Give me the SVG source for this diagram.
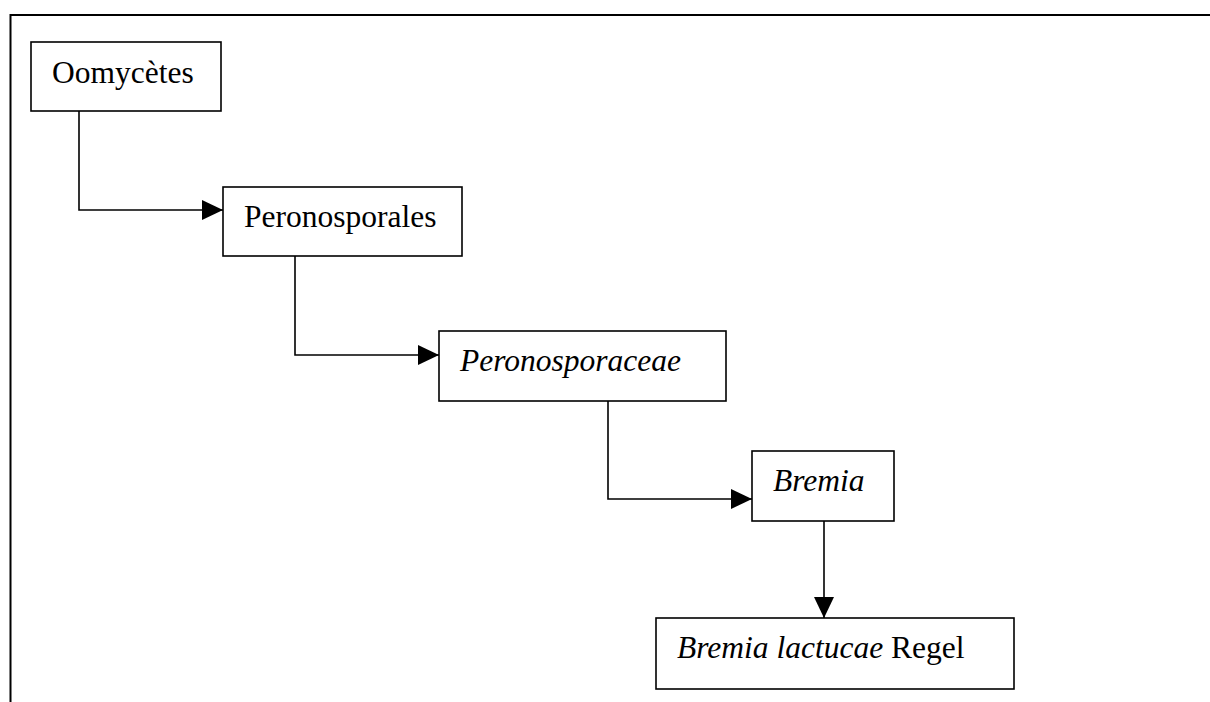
<svg xmlns="http://www.w3.org/2000/svg" width="1210" height="702" viewBox="0 0 1210 702">
<style>
.box{fill:#fff;stroke:#000;stroke-width:1.6}
.t{font-family:"Liberation Serif","Times New Roman",serif;font-size:31.5px;fill:#000}
.i{font-style:italic}
.c{fill:none;stroke:#000;stroke-width:1.6}
</style>
<defs>
<marker id="ah" markerWidth="21" markerHeight="20" refX="21" refY="10" orient="auto" markerUnits="userSpaceOnUse">
<path d="M0,0 L21,10 L0,20 Z" fill="#000"/>
</marker>
</defs>
<rect width="1210" height="702" fill="#fff"/>
<path d="M10.5,702 L10.5,15 L1210,15" fill="none" stroke="#000" stroke-width="2"/>
<g id="connectors">
<path class="c" d="M79,111 L79,210 L223,210" marker-end="url(#ah)"/>
<path class="c" d="M295,256 L295,355 L439,355" marker-end="url(#ah)"/>
<path class="c" d="M608,401 L608,499 L752,499" marker-end="url(#ah)"/>
<path class="c" d="M824,521 L824,618" marker-end="url(#ah)"/>
</g>
<g id="n1"><rect class="box" x="31" y="42" width="190" height="69"/><text class="t" x="52" y="83">Oomycètes</text></g>
<g id="n2"><rect class="box" x="223" y="187" width="239" height="69"/><text class="t" x="244" y="227">Peronosporales</text></g>
<g id="n3"><rect class="box" x="439" y="331" width="287" height="70"/><text class="t i" x="460" y="371">Peronosporaceae</text></g>
<g id="n4"><rect class="box" x="752" y="451" width="142" height="70"/><text class="t i" x="773" y="491">Bremia</text></g>
<g id="n5"><rect class="box" x="656" y="618" width="358" height="71"/><text class="t" x="677" y="658"><tspan class="i">Bremia lactucae</tspan> Regel</text></g>
</svg>
